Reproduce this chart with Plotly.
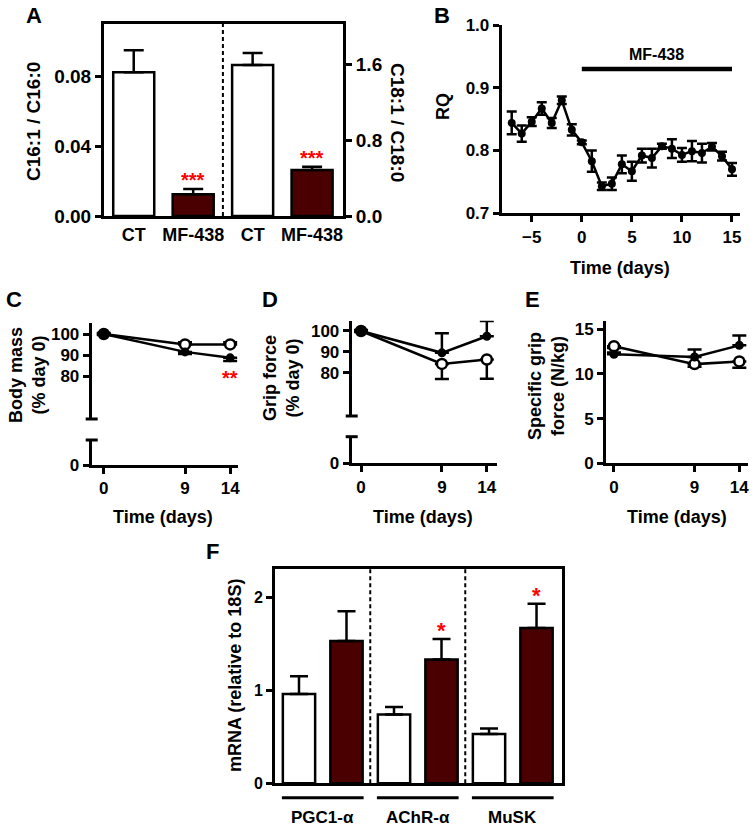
import plotly.graph_objects as go

W, H = 755, 828
FONT = "Liberation Sans, Arial, sans-serif"
DARK = "#4a0000"
RED = "#ff0000"

# ---------------- data ----------------
# Panel A
a_labels = ["CT", "MF-438", "CT", "MF-438"]
c16_ratio = [0.0823, 0.0124]
c16_err = [0.0126, 0.0030]
c18_ratio = [1.596, 0.487]
c18_err = [0.127, 0.035]
a_sig = ["", "***"]

# Panel B
rq_days = [-7, -6, -5, -4, -3, -2, -1, 0, 1, 2, 3, 4, 5, 6, 7, 8, 9, 10, 11, 12, 13, 14, 15]
rq_vals = [0.844, 0.827, 0.846, 0.867, 0.844, 0.880, 0.833, 0.813, 0.783, 0.743, 0.747,
           0.778, 0.767, 0.792, 0.788, 0.807, 0.803, 0.793, 0.799, 0.796, 0.806, 0.791, 0.770]
rq_err = [0.018, 0.013, 0.007, 0.010, 0.008, 0.006, 0.009, 0.003, 0.017, 0.006, 0.010,
          0.014, 0.015, 0.011, 0.015, 0.004, 0.015, 0.011, 0.016, 0.015, 0.006, 0.007, 0.010]
treatment_days = [0, 15]
treatment_label = "MF-438"

# Panels C-E
time_days = [0, 9, 14]
body_ct = [100, 95.1, 95.1]
body_ct_err = [0.5, 1.0, 1.0]
body_mf = [100, 91.6, 88.8]
body_mf_err = [0.5, 1.0, 1.5]
body_sig = ["", "", "**"]

grip_ct = [100, 84.3, 86.4]
grip_ct_err = [0.5, 7.2, 9.1]
grip_mf = [100, 89.6, 97.5]
grip_mf_err = [0.5, 9.3, 7.2]

sgrip_ct = [13.1, 11.1, 11.4]
sgrip_ct_err = [0.2, 0.3, 0.7]
sgrip_mf = [12.2, 11.9, 13.2]
sgrip_mf_err = [0.2, 0.85, 1.1]

# Panel F
genes = ["PGC1-α", "AChR-α", "MuSK"]
mrna_ct = [0.96, 0.74, 0.53]
mrna_ct_err = [0.19, 0.08, 0.06]
mrna_mf = [1.53, 1.33, 1.67]
mrna_mf_err = [0.32, 0.22, 0.26]
mrna_sig = ["", "*", "*"]


# ---------------- helpers ----------------
def fx(px):
    return px / W


def fy(py):
    return 1 - py / H


def tf(size=17):
    return dict(family=FONT, size=size, color="black", weight="bold")


LW = 3


def axis(**kw):
    d = dict(showline=True, linecolor="black", linewidth=LW, ticks="outside",
             tickwidth=LW, ticklen=6, tickcolor="black", showgrid=False,
             zeroline=False, tickfont=tf(17), fixedrange=True, automargin=False)
    d.update(kw)
    return d


fig = go.Figure()
annotations = []
shapes = []


def err(arr, up=True):
    zeros = [0] * len(arr)
    return dict(type="data", symmetric=False,
                array=arr if up else zeros,
                arrayminus=zeros if up else arr,
                color="black", thickness=2.5, width=7)


# ---------------- Panel A ----------------
fig.add_trace(go.Bar(x=[0, 1], y=c16_ratio, width=0.69, xaxis="x", yaxis="y",
                     marker=dict(color=["white", DARK], line=dict(color="black", width=2.5)),
                     error_y=dict(type="data", symmetric=False, array=c16_err, arrayminus=[0, 0],
                                  color="black", thickness=2.5, width=10)))
fig.add_trace(go.Bar(x=[2, 3], y=c18_ratio, width=0.69, xaxis="x", yaxis="y2",
                     marker=dict(color=["white", DARK], line=dict(color="black", width=2.5)),
                     error_y=dict(type="data", symmetric=False, array=c18_err, arrayminus=[0, 0],
                                  color="black", thickness=2.5, width=10)))
for i in range(2):
    if a_sig[i]:
        annotations.append(dict(x=i, y=c16_ratio[i] + c16_err[i], xref="x", yref="y",
                                text=a_sig[i], showarrow=False, yanchor="bottom", yshift=-4,
                                font=dict(family=FONT, size=20, color=RED, weight="bold")))
        annotations.append(dict(x=i + 2, y=c18_ratio[i] + c18_err[i], xref="x", yref="y2",
                                text=a_sig[i], showarrow=False, yanchor="bottom", yshift=-4,
                                font=dict(family=FONT, size=20, color=RED, weight="bold")))
shapes.append(dict(type="line", xref="x", yref="y domain", x0=1.5, x1=1.5, y0=0, y1=1,
                   line=dict(color="black", width=2, dash="4px,3px")))

# ---------------- Panel B ----------------
fig.add_trace(go.Scatter(x=rq_days, y=rq_vals, xaxis="x3", yaxis="y3", mode="lines+markers",
                         line=dict(color="black", width=2.5),
                         marker=dict(color="black", size=8),
                         error_y=dict(type="data", array=rq_err, color="black",
                                      thickness=2.5, width=5)))
bar_level = 0.93
fig.add_trace(go.Scatter(x=treatment_days, y=[bar_level] * len(treatment_days),
                         xaxis="x3", yaxis="y3", mode="lines",
                         line=dict(color="black", width=4.5)))
annotations.append(dict(x=sum(treatment_days) / 2, y=bar_level, xref="x3", yref="y3",
                        text=treatment_label, showarrow=False, yanchor="bottom", yshift=4,
                        font=tf(16)))


# ---------------- Panels C, D, E ----------------
def line_pair(xa, ya, ct, ct_e, mf, mf_e, ct_up, mf_up):
    fig.add_trace(go.Scatter(x=time_days, y=ct, xaxis=xa, yaxis=ya, mode="lines+markers",
                             line=dict(color="black", width=2.5),
                             marker=dict(color="white", size=10, line=dict(color="black", width=2.5)),
                             error_y=err(ct_e, ct_up)))
    fig.add_trace(go.Scatter(x=time_days, y=mf, xaxis=xa, yaxis=ya, mode="lines+markers",
                             line=dict(color="black", width=2.5),
                             marker=dict(color="black", size=9),
                             error_y=err(mf_e, mf_up)))


def lower_holder(xa, ya, vals):
    # same series on the lower (broken) segment; it lies outside that range so nothing shows
    fig.add_trace(go.Scatter(x=time_days, y=vals, xaxis=xa, yaxis=ya, mode="lines",
                             line=dict(color="rgba(0,0,0,0)", width=0), hoverinfo="skip"))


line_pair("x4", "y4", body_ct, body_ct_err, body_mf, body_mf_err, True, False)
lower_holder("x5", "y5", body_ct)
for i, s in enumerate(body_sig):
    if s:
        annotations.append(dict(x=time_days[i], y=body_mf[i] - body_mf_err[i], xref="x4", yref="y4",
                                text=s, showarrow=False, yanchor="top", yshift=-4,
                                font=dict(family=FONT, size=20, color=RED, weight="bold")))
line_pair("x6", "y6", grip_ct, grip_ct_err, grip_mf, grip_mf_err, False, True)
lower_holder("x7", "y7", grip_ct)
line_pair("x8", "y8", sgrip_ct, sgrip_ct_err, sgrip_mf, sgrip_mf_err, False, True)

# ---------------- Panel F ----------------
ct_x = [2 * g for g in range(len(genes))]
mf_x = [2 * g + 1 for g in range(len(genes))]
fig.add_trace(go.Bar(x=ct_x, y=mrna_ct, width=0.68, xaxis="x9", yaxis="y9",
                     marker=dict(color="white", line=dict(color="black", width=2.5)),
                     error_y=dict(type="data", symmetric=False, array=mrna_ct_err,
                                  arrayminus=[0] * 3, color="black", thickness=2.5, width=9)))
fig.add_trace(go.Bar(x=mf_x, y=mrna_mf, width=0.68, xaxis="x9", yaxis="y9",
                     marker=dict(color=DARK, line=dict(color="black", width=2.5)),
                     error_y=dict(type="data", symmetric=False, array=mrna_mf_err,
                                  arrayminus=[0] * 3, color="black", thickness=2.5, width=9)))
for g, name in enumerate(genes):
    if mrna_sig[g]:
        annotations.append(dict(x=mf_x[g], y=mrna_mf[g] + mrna_mf_err[g], xref="x9", yref="y9",
                                text=mrna_sig[g], showarrow=False, yanchor="bottom", yshift=-6,
                                font=dict(family=FONT, size=22, color=RED, weight="bold")))
    shapes.append(dict(type="line", xref="x9", yref="paper", x0=ct_x[g] - 0.36, x1=mf_x[g] + 0.36,
                       y0=fy(797.7), y1=fy(797.7), line=dict(color="black", width=3)))
    annotations.append(dict(x=(ct_x[g] + mf_x[g]) / 2, y=fy(806), xref="x9", yref="paper",
                            text=name, showarrow=False, yanchor="top", font=tf(17)))
    if g > 0:
        shapes.append(dict(type="line", xref="x9", yref="y9 domain", x0=ct_x[g] - 0.5,
                           x1=ct_x[g] - 0.5, y0=0, y1=1,
                           line=dict(color="black", width=2, dash="4px,3px")))

# ---------------- layout ----------------
layout = dict(
    width=W, height=H, margin=dict(l=0, r=0, t=0, b=0, pad=0, autoexpand=False),
    paper_bgcolor="white", plot_bgcolor="rgba(0,0,0,0)",
    showlegend=False, barmode="overlay",
    font=dict(family=FONT, color="black"),
    # A
    xaxis=axis(domain=[fx(104), fx(343)], anchor="y", range=[-0.5, 3.52],
               tickvals=[0, 1, 2, 3], ticktext=a_labels, ticks="", mirror=True,
               tickfont=tf(18)),
    yaxis=axis(domain=[fy(216), fy(24)], anchor="x", range=[0, 0.11],
               tickvals=[0, 0.04, 0.08], tickformat=".2f", tickfont=tf(19)),
    yaxis2=axis(overlaying="y", side="right", anchor="x", range=[0, 2.03],
                tickvals=[0, 0.8, 1.6], tickformat=".1f", tickfont=tf(19)),
    # B
    xaxis3=axis(domain=[fx(501.7), fx(740)], anchor="y3", range=[-8, 15.8],
                tickvals=[-5, 0, 5, 10, 15]),
    yaxis3=axis(domain=[fy(213.3), fy(25)], anchor="x3", range=[0.7, 1.0],
                tickvals=[0.7, 0.8, 0.9, 1.0], tickformat=".1f"),
    # C
    xaxis4=axis(domain=[fx(91.7), fx(238)], anchor="y4", range=[-1.34, 14.87], visible=False),
    yaxis4=axis(domain=[fy(419), fy(323)], anchor="x4", range=[60, 105.2],
                tickvals=[80, 90, 100], tickfont=tf(17)),
    xaxis5=axis(domain=[fx(91.7), fx(238)], anchor="y5", range=[-1.34, 14.87],
                tickvals=time_days),
    yaxis5=axis(domain=[fy(465), fy(440)], anchor="x5", range=[0, 11.7], tickvals=[0]),
    # D
    xaxis6=axis(domain=[fx(351.7), fx(496.7)], anchor="y6", range=[-1.04, 15.1], visible=False),
    yaxis6=axis(domain=[fy(416), fy(320.7)], anchor="x6", range=[59.5, 104.9],
                tickvals=[80, 90, 100]),
    xaxis7=axis(domain=[fx(351.7), fx(496.7)], anchor="y7", range=[-1.04, 15.1],
                tickvals=time_days),
    yaxis7=axis(domain=[fy(463.3), fy(436.7)], anchor="x7", range=[0, 12.5], tickvals=[0]),
    # E
    xaxis8=axis(domain=[fx(606), fx(748)], anchor="y8", range=[-0.89, 14.97],
                tickvals=time_days),
    yaxis8=axis(domain=[fy(463.3), fy(320.7)], anchor="x8", range=[0, 15.96],
                tickvals=[0, 5, 10, 15]),
    # F
    xaxis9=axis(domain=[fx(275), fx(561.7)], anchor="y9", range=[-0.505, 5.53],
                showticklabels=False, ticks="", mirror=True),
    yaxis9=axis(domain=[fy(783.3), fy(569.3)], anchor="x9", range=[0, 2.3],
                tickvals=[0, 1, 2], mirror=True, tickfont=tf(16)),
)

# axis break caps for C and D
for ax_px, y_top, y_bot in [(91.7, 419, 440), (351.7, 416, 436.7)]:
    for yy in (y_top, y_bot):
        shapes.append(dict(type="line", xref="paper", yref="paper",
                           x0=fx(ax_px - 6), x1=fx(ax_px + 6), y0=fy(yy), y1=fy(yy),
                           line=dict(color="black", width=LW)))


def label(text, x, y, size=18, angle=0):
    annotations.append(dict(text=text, x=fx(x), y=fy(y), xref="paper", yref="paper",
                            showarrow=False, textangle=angle, xanchor="center", yanchor="middle",
                            font=tf(size)))


# axis titles
label("C16:1 / C16:0", 34, 122, 19, -90)
label("C18:1 / C18:0", 397, 122, 19, 90)
label("RQ", 443, 107, 18, -90)
label("Time (days)", 620, 268, 18)
label("Body mass<br>(% day 0)", 27, 375, 18, -90)
label("Grip force<br>(% day 0)", 281, 378, 18, -90)
label("Specific grip<br>force (N/kg)", 546, 386, 18, -90)
label("Time (days)", 163, 517, 18)
label("Time (days)", 423, 517, 18)
label("Time (days)", 677, 517, 18)
label("mRNA (relative to 18S)", 235, 675, 18, -90)

# panel letters
label("A", 34, 16, 22)
label("B", 442, 16, 22)
label("C", 14, 299, 22)
label("D", 270, 299, 22)
label("E", 532, 299, 22)
label("F", 212, 551, 22)

layout["annotations"] = annotations
layout["shapes"] = shapes
fig.update_layout(**layout)
fig.write_html("out.html", config={"displayModeBar": False},
               post_script="document.body.style.margin='0';document.body.style.padding='0';"
                           "document.documentElement.style.overflow='hidden';")
